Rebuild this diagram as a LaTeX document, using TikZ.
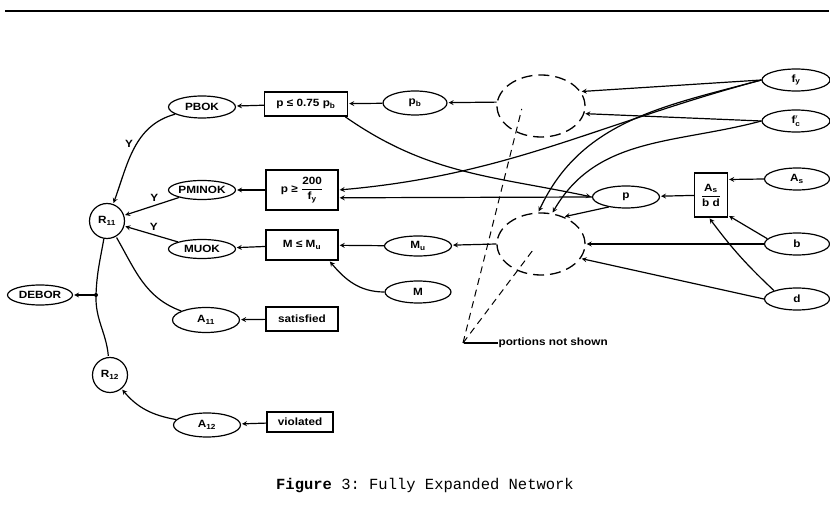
\documentclass[tikz,border=0pt]{standalone}
\usepackage{amsmath}
\usepackage{fontspec}
\setmonofont{Liberation Mono}
\newfontfamily\netfamily[FakeStretch=1.12]{Liberation Sans}
\newcommand\netfont{\netfamily\bfseries\fontsize{10.5}{12}\selectfont}
\usetikzlibrary{positioning,shapes.geometric}
\tikzset{
    varnode/.style = {
       shape=ellipse, draw,
       line width=1.2pt,
       inner sep=0pt,
       minimum width = 67pt,
       minimum height = 22pt,
       font=\netfont
    },
    rulenode/.style = {
       shape=circle, draw,
       line width=1.2pt,
       inner sep=0pt,
       minimum size = 35pt,
       font=\netfont
    },
    consnode/.style = {
       shape=rectangle, draw,
       line width=1.4pt,
       align=center,
       inner sep=1pt,
       minimum width = 72pt,
       minimum height = 24pt,
       font=\netfont
    },
    hiddennode/.style = {
       shape=ellipse, draw,
       dash pattern=on 11pt off 6pt,
       line width=1.3pt,
       minimum width = 88pt,
       minimum height = 62pt
    },
    pointer/.style = {-, dash pattern=on 7pt off 5pt, line width=1pt}
}
\begin{document}
\begin{tikzpicture}[x=1pt,y=-1pt,->,>=stealth,shorten >=1pt,line width=1.2pt]
   \useasboundingbox (0,0) rectangle (830,510);
   \draw[-, line width=1.6pt] (5,11) -- (830,11);
   % rules and their outcomes
   \node[rulenode] (R11) at (107,221) {R\textsubscript{11}};
   \node[rulenode] (R12) at (110,375) {R\textsubscript{12}};
   \node[varnode, minimum width=65pt, minimum height=20pt] (DEBOR) at (40,295) {DEBOR};
   \node[varnode] (PBOK) at (202,107) {PBOK};
   \node[varnode, minimum height=19pt] (PMINOK) at (202,190) {PMINOK};
   \node[varnode, minimum height=19pt] (MUOK) at (202,249) {MUOK};
   \node[varnode, minimum height=25pt] (A11) at (206,320) {A\textsubscript{11}};
   \node[varnode, minimum height=24pt] (A12) at (207,425) {A\textsubscript{12}};
   % constraints
   \node[consnode, minimum width=83pt] (Cpb) at (306,104) {p ≤ 0.75 p\textsubscript{b}};
   \node[consnode, minimum height=40pt] (Cpmin) at (302,190) {p ≥ $\dfrac{\text{200}}{\text{f}_\text{y}}$};
   \node[consnode, minimum height=30pt] (Cmu) at (302,245) {M ≤ M\textsubscript{u}};
   \node[consnode] (Sat) at (302,319) {satisfied};
   \node[consnode, minimum width=66pt, minimum height=20pt] (Vio) at (300,422) {violated};
   % variables
   \node[varnode, minimum width=64pt, minimum height=24pt] (pb) at (415,103) {p\textsubscript{b}};
   \node[varnode, minimum height=20pt] (Mu) at (418,246) {M\textsubscript{u}};
   \node[varnode, minimum width=66pt] (M) at (418,292) {M};
   \node[hiddennode] (Hpb) at (541,106) {};
   \node[hiddennode] (Hmu) at (541,244) {};
   \node[varnode] (p) at (626,197) {p};
   \node[consnode, minimum width=33pt, minimum height=44pt, inner sep=0pt] (Asbd) at (711,195) {$\dfrac{\text{A}_\text{s}}{\text{b d}}$};
   \node[varnode, minimum width=68pt] (fy) at (796,80) {f\textsubscript{y}};
   \node[varnode, minimum width=68pt] (fc) at (796,121) {f$'_{\text{c}}$};
   \node[varnode, minimum width=65pt] (As) at (797,179) {A\textsubscript{s}};
   \node[varnode, minimum width=65pt] (b) at (797,244) {b};
   \node[varnode, minimum width=65pt] (d) at (797,299) {d};
   \node[anchor=west, font=\netfont, inner sep=0pt] (note) at (498,343) {portions not shown};
   \coordinate (split) at (96,295);
   \coordinate (corner) at (463,343);
   \coordinate (tipA) at (522,108);
   \coordinate (tipB) at (533,250);
   \node (caption) at (425,486) {\ttfamily\fontsize{15.5}{18}\selectfont\textbf{Figure} 3: Fully Expanded Network};
\path
(Cpb) edge (PBOK)
(Cpmin) edge (PMINOK)
(Cmu) edge (MUOK)
(Sat) edge (A11)
(Vio) edge (A12)
(PBOK) edge[out=195,in=70] node[pos=0.45, left, font=\netfont] {Y} (R11)
(PMINOK) edge node[above, pos=0.45, font=\netfont] {Y} (R11)
(MUOK) edge node[above, pos=0.45, font=\netfont] {Y} (R11)
(A11) edge[-, out=160, in=-60] (R11)
(A12) edge[out=170, in=-50] (R12)
(split) edge (DEBOR)
(pb) edge (Cpb)
(Hpb.175) edge (pb)
(Mu) edge (Cmu)
(Hmu.west) edge (Mu)
(M.west) edge[out=180, in=-50] (Cmu.-30)
(p.west) edge (Cpmin.-12)
(fy.west) edge[out=195, in=5] (Cpmin.east)
(Cpb.-18) edge[out=-35, in=168] (p.west)
(Asbd) edge (p)
(As.west) edge (Asbd.42)
(b.170) edge (Asbd.-50)
(d.160) edge[bend left=5] (Asbd.-95)
(b.west) edge (Hmu.east)
(d.west) edge (Hmu.-20)
(p.210) edge (Hmu.50)
(fy.west) edge (Hpb.20)
(fc.west) edge (Hpb.-10)
(fy.west) edge[out=195, in=65] (Hmu.95)
(fc.west) edge[out=195, in=60] (Hmu.70);
   \draw[-] (R11) to[out=-100, in=88] (split) to[out=-92, in=95] (R12);
   \fill (split) circle (2pt);
   \draw[-] (note.west) -- (corner);
   \draw[pointer] (corner) -- (tipA);
   \draw[pointer] (corner) -- (tipB);
\end{tikzpicture}
\end{document}
